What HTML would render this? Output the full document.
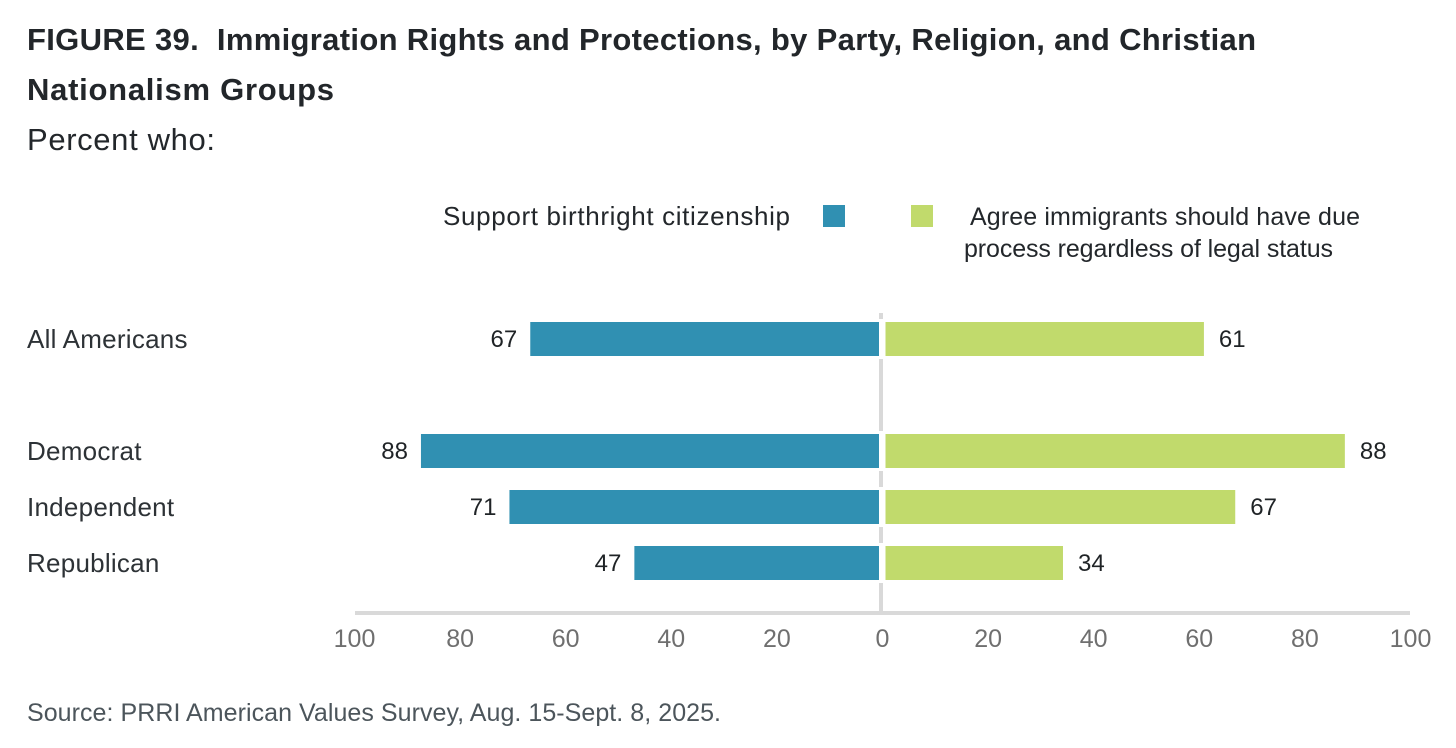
<!DOCTYPE html>
<html lang="en">
<head>
<meta charset="utf-8">
<title>Immigration Rights and Protections</title>
<style>
html,body{margin:0;padding:0;background:#fff;width:1456px;height:748px;overflow:hidden}
svg{display:block;font-family:"Liberation Sans",sans-serif}
.title{font-weight:700;font-size:31px;fill:#22262a;white-space:pre}
.sub{font-size:31px;fill:#23272b}
.leg{font-size:26px;fill:#23272b}
.leg2{font-size:25px;fill:#23272b}
.cat{font-size:26px;fill:#2d3236;letter-spacing:.25px}
.val{font-size:24px;fill:#1f2326}
.tick{font-size:25px;fill:#6f6f6f}
.src{font-size:25px;fill:#4c555b}
</style>
</head>
<body>
<svg id="chart" width="1456" height="748" viewBox="0 0 1456 748">
<rect width="1456" height="748" fill="#fff"/>
<text class="title" x="27" y="50" textLength="1229" lengthAdjust="spacing" xml:space="preserve">FIGURE 39.  Immigration Rights and Protections, by Party, Religion, and Christian</text>
<text class="title" x="27" y="100" textLength="307" lengthAdjust="spacing">Nationalism Groups</text>
<text class="sub" x="27" y="150" textLength="188" lengthAdjust="spacing">Percent who:</text>
<text class="leg" x="443" y="225" textLength="347" lengthAdjust="spacing">Support birthright citizenship</text>
<rect x="823" y="205" width="22" height="22" fill="#3090b2"/>
<rect x="911" y="205" width="22" height="22" fill="#c1da6c"/>
<text class="leg2" x="970" y="225" textLength="390" lengthAdjust="spacing">Agree immigrants should have due</text>
<text class="leg2" x="964" y="257" textLength="369" lengthAdjust="spacing">process regardless of legal status</text>
<rect x="355" y="611" width="1055" height="4" fill="#d9d9d9"/>
<rect x="879" y="313" width="4" height="299" fill="#d9d9d9"/>
<g id="marks"></g>
<text class="src" x="27" y="721" textLength="694" lengthAdjust="spacing">Source: PRRI American Values Survey, Aug. 15-Sept. 8, 2025.</text>
</svg>
<script>
const categories = ["All Americans", null, "Democrat", "Independent", "Republican"];
const birthrightValues = [67, null, 88, 71, 47];
const dueProcessValues = [61, null, 88, 67, 34];
const leftTicks = [100, 80, 60, 40, 20, 0];
const rightTicks = [0, 20, 40, 60, 80, 100];

const NS = "http://www.w3.org/2000/svg";
const marks = document.getElementById("marks");
const leftScale = 5.205;
const rightScale = 5.22;
const tickScale = 5.28;
const leftBase = 879;
const rightBase = 885.5;
const tickZero = 882.5;
const barHeight = 34;
const xLeft = v => leftBase - v * leftScale;
const xRight = v => rightBase + v * rightScale;
const tickLeft = v => tickZero - v * tickScale;
const tickRight = v => tickZero + v * tickScale;
const rowCenter = i => 339 + i * 56;

function node(tag, attrs, text) {
  const el = document.createElementNS(NS, tag);
  for (const k in attrs) el.setAttribute(k, attrs[k]);
  if (text !== undefined) el.textContent = text;
  marks.appendChild(el);
  return el;
}

categories.forEach((cat, i) => {
  if (cat === null) return;
  const slug = cat.toLowerCase().replace(/\s+/g, "-");
  const cy = rowCenter(i);
  const label = node("text", {class: "cat", x: 27, y: cy + 9}, cat);
  
  

  const gap = node("rect", {x: leftBase - 1, y: cy - barHeight / 2 - 3, width: rightBase - leftBase + 2, height: barHeight + 6, fill: "#fff"});
  
  

  const a = birthrightValues[i];
  const barA = node("rect", {x: xLeft(a), y: cy - barHeight / 2, width: leftBase - xLeft(a), height: barHeight, fill: "#3090b2"});
  
  
  const valA = node("text", {class: "val", x: xLeft(a) - 13, y: cy + 8, "text-anchor": "end"}, a);
  
  

  const b = dueProcessValues[i];
  const barB = node("rect", {x: rightBase, y: cy - barHeight / 2, width: xRight(b) - rightBase, height: barHeight, fill: "#c1da6c"});
  
  
  const valB = node("text", {class: "val", x: xRight(b) + 15, y: cy + 8}, b);
  
  
});

leftTicks.forEach(t => {
  const el = node("text", {class: "tick", x: tickLeft(t), y: 647, "text-anchor": "middle"}, t);
  
  
});
rightTicks.filter(t => t !== 0).forEach(t => {
  const el = node("text", {class: "tick", x: tickRight(t), y: 647, "text-anchor": "middle"}, t);
  
  
});
</script>
</body>
</html>
